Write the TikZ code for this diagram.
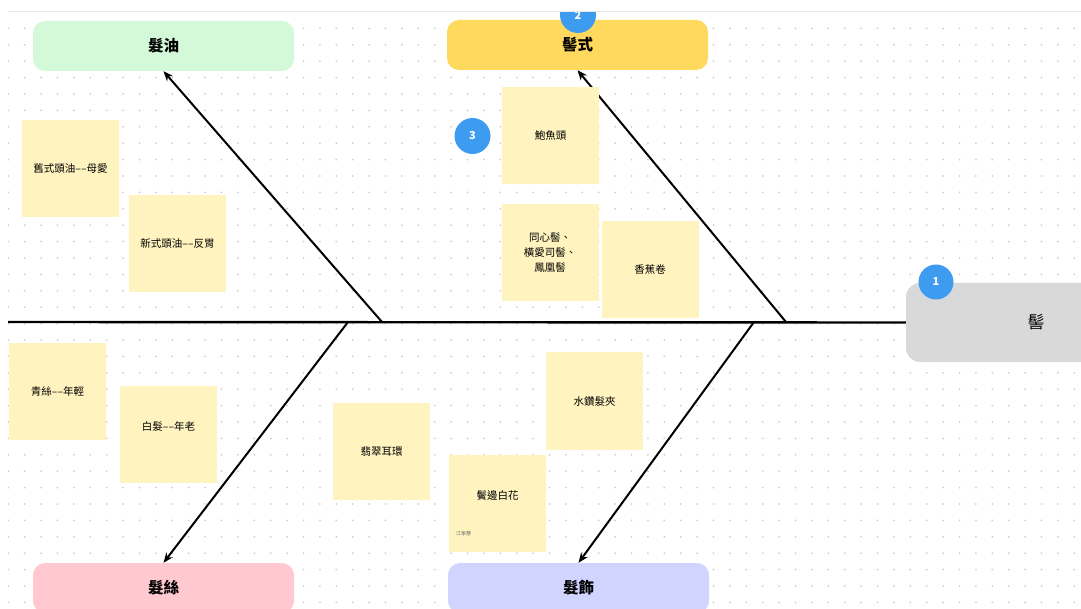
\documentclass[tikz,border=0pt]{standalone}
\usepackage{fontspec}
\setmainfont{Noto Sans CJK TC}
\usetikzlibrary{arrows.meta,positioning}
\definecolor{oilgreen}{HTML}{D3F9D8}
\definecolor{styleyellow}{HTML}{FFD85E}
\definecolor{silkpink}{HTML}{FFC9CF}
\definecolor{ornlavender}{HTML}{D0D4FF}
\definecolor{headgray}{HTML}{D9D9D9}
\definecolor{stickyyellow}{HTML}{FFF4C0}
\definecolor{badgeblue}{HTML}{3D9CF0}
\definecolor{dotgray}{HTML}{CFCFCF}
\tikzset{
  sticky/.style={fill=stickyyellow, minimum width=97pt, minimum height=97pt,
    inner sep=0pt, align=center, font=\fontsize{10.5}{15}\selectfont},
  lifted/.style={text depth=16pt},
  cat/.style={rounded corners=12pt, minimum width=261pt, minimum height=50pt,
    inner sep=0pt, font=\fontsize{15.5}{18}\selectfont\bfseries},
  badge/.style={circle, fill=badgeblue, minimum size=35pt, inner sep=0pt,
    text=white, font=\fontsize{11}{12}\selectfont\bfseries},
  bone/.style={line width=2pt, -{Stealth[length=10pt,width=8pt]}},
}

\begin{document}
\begin{tikzpicture}[x=1pt,y=-1pt]
\useasboundingbox (0,0) rectangle (1081,609);
\fill[white] (0,0) rectangle (1081,609);
\draw[black!9, line width=1pt] (8,12) -- (1081,12);
\begin{scope}
\clip (8,12.5) rectangle (1081,609);
% dot grid
\foreach \i in {0,...,65}
  \foreach \j in {0,...,35}
    \fill[dotgray] ({8.3+16.4*\i},{28.4+16.4*\j}) circle (1pt);
% head and categories
\node[cat, fill=headgray, minimum width=260pt, minimum height=79pt, rounded corners=14pt,
  font=\fontsize{17}{20}\selectfont] (head) at (1036,322.5) {髻};
\node[cat, fill=oilgreen] (oil) at (163.5,46) {髮油};
\node[cat, fill=styleyellow] (style) at (577.5,45) {髻式};
\node[cat, fill=silkpink] (silk) at (163.5,588) {髮絲};
\node[cat, fill=ornlavender] (orn) at (578.5,588) {髮飾};
% spine and bones
\coordinate (tail) at (8,322);
\coordinate (j1) at (382,322);
\coordinate (j2) at (786,322);
\coordinate (j3) at (348,322);
\coordinate (j4) at (754,322);
\draw[line width=2.4pt] (tail) -- (head.west);
\draw[bone] (j1) -- (oil.south);
\draw[bone] (j2) -- (style.south);
\draw[bone] (j3) -- (silk.north);
\draw[bone] (j4) -- (orn.north);
% sticky notes
\node[sticky] (oldoil) at (70.5,169) {舊式頭油––母愛};
\node[sticky] (newoil) at (177.5,243.5) {新式頭油––反胃};
\node[sticky] (abalone) at (550.5,136) {鮑魚頭};
\node[sticky] (buns) at (550,252.5) {同心髻、\\橫愛司髻、\\鳳凰髻};
\node[sticky] (banana) at (650,269.5) {香蕉卷};
\node[sticky] (young) at (57.5,391.5) {青絲––年輕};
\node[sticky, lifted] (old) at (168.5,434) {白髮––年老};
\node[sticky] (jade) at (381.5,451.5) {翡翠耳環};
\node[sticky] (clip) at (594.5,401) {水鑽髮夾};
\node[sticky, lifted] (flower) at (497.5,503) {鬢邊白花};
\node[font=\fontsize{5}{6}\selectfont, text=black!60, anchor=west, inner sep=0pt]
  (author) at (456,534) {江家慧};
% badges
\node[badge] (b1) at (936,282) {1};
\node[badge, minimum size=36pt] (b2) at (578,15) {2};
\node[badge, minimum size=36pt] (b3) at (472.5,136) {3};
\end{scope}
\end{tikzpicture}
\end{document}
